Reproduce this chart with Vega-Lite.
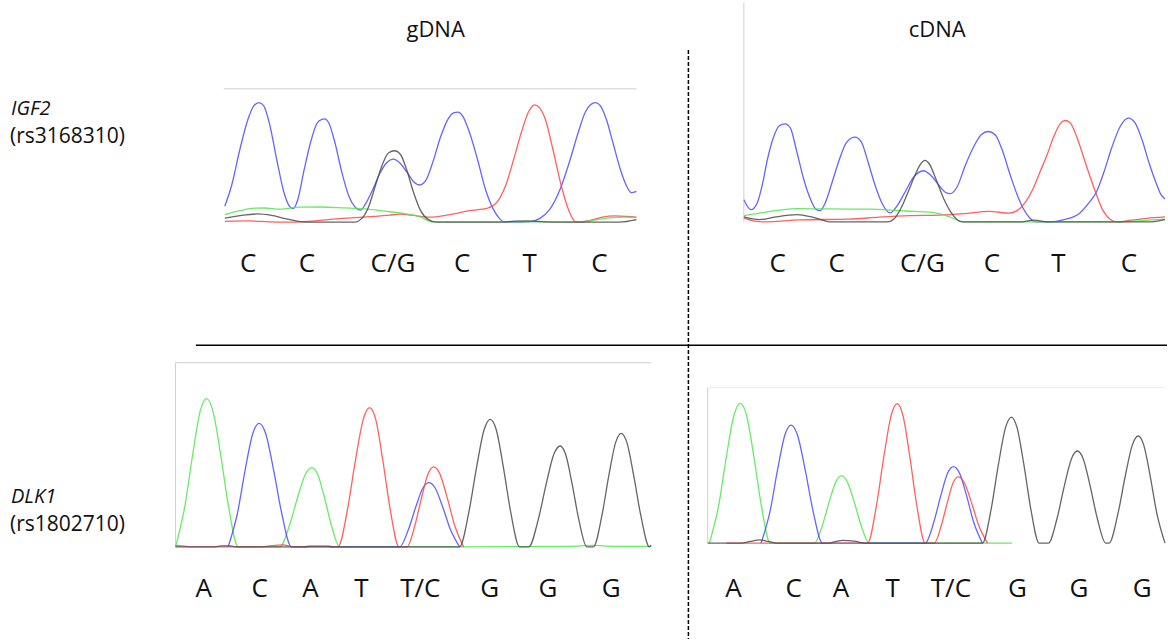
{
  "$schema": "https://vega.github.io/schema/vega-lite/v6.json",
  "width": 1168,
  "height": 640,
  "padding": 0,
  "autosize": {"type": "fit", "contains": "padding"},
  "background": "white",
  "config": {"view": {"stroke": null}},
  "datasets": {
    "frames": [
      {"k": "border", "x": 224, "x2": 637, "y": 89, "y2": 89},
      {"k": "border", "x": 744.5, "x2": 744.5, "y": 3, "y2": 222.3},
      {"k": "border", "x": 175.7, "x2": 651.7, "y": 363.3, "y2": 363.3},
      {"k": "border", "x": 175.7, "x2": 175.7, "y": 363.3, "y2": 547.7},
      {"k": "faint", "x": 708.3, "x2": 1166, "y": 388.3, "y2": 388.3},
      {"k": "border", "x": 708.3, "x2": 708.3, "y": 388.3, "y2": 544},
      {"k": "solid", "x": 196, "x2": 1168, "y": 345.7, "y2": 345.7},
      {"k": "dash", "x": 689, "x2": 689, "y": 50, "y2": 640}
    ],
    "traces": [
      {"p":"TL","b":"C","x":225,"y":206.5},{"p":"TL","b":"C","x":232,"y":185},{"p":"TL","b":"C","x":240,"y":150},{"p":"TL","b":"C","x":248,"y":120},{"p":"TL","b":"C","x":254,"y":106},{"p":"TL","b":"C","x":259.3,"y":102.7},{"p":"TL","b":"C","x":264,"y":106},{"p":"TL","b":"C","x":270,"y":125},{"p":"TL","b":"C","x":277,"y":160},{"p":"TL","b":"C","x":284,"y":192},{"p":"TL","b":"C","x":290,"y":207},{"p":"TL","b":"C","x":293.5,"y":209},{"p":"TL","b":"C","x":298,"y":200},{"p":"TL","b":"C","x":304,"y":172},{"p":"TL","b":"C","x":311,"y":142},{"p":"TL","b":"C","x":317,"y":124},{"p":"TL","b":"C","x":322,"y":119.5},{"p":"TL","b":"C","x":325,"y":119},{"p":"TL","b":"C","x":329,"y":123},{"p":"TL","b":"C","x":335,"y":142},{"p":"TL","b":"C","x":342,"y":172},{"p":"TL","b":"C","x":349,"y":196},{"p":"TL","b":"C","x":355,"y":207},{"p":"TL","b":"C","x":360.7,"y":210.5},{"p":"TL","b":"C","x":366,"y":204},{"p":"TL","b":"C","x":373,"y":190},{"p":"TL","b":"C","x":380,"y":174},{"p":"TL","b":"C","x":387,"y":163},{"p":"TL","b":"C","x":394,"y":159.3},{"p":"TL","b":"C","x":400,"y":163},{"p":"TL","b":"C","x":407,"y":172},{"p":"TL","b":"C","x":414,"y":182},{"p":"TL","b":"C","x":420,"y":185.3},{"p":"TL","b":"C","x":426,"y":181},{"p":"TL","b":"C","x":433,"y":163},{"p":"TL","b":"C","x":441,"y":137},{"p":"TL","b":"C","x":448,"y":120},{"p":"TL","b":"C","x":454,"y":113},{"p":"TL","b":"C","x":458.3,"y":112.3},{"p":"TL","b":"C","x":463,"y":116},{"p":"TL","b":"C","x":470,"y":133},{"p":"TL","b":"C","x":478,"y":160},{"p":"TL","b":"C","x":486,"y":190},{"p":"TL","b":"C","x":494,"y":210},{"p":"TL","b":"C","x":500,"y":219},{"p":"TL","b":"C","x":505,"y":222.5},{"p":"TL","b":"C","x":515,"y":222.5},{"p":"TL","b":"C","x":530,"y":222},{"p":"TL","b":"C","x":540,"y":219},{"p":"TL","b":"C","x":550,"y":210},{"p":"TL","b":"C","x":561.7,"y":186.7},{"p":"TL","b":"C","x":570,"y":162},{"p":"TL","b":"C","x":578,"y":135},{"p":"TL","b":"C","x":586,"y":112},{"p":"TL","b":"C","x":591,"y":105},{"p":"TL","b":"C","x":596,"y":102.7},{"p":"TL","b":"C","x":601,"y":106},{"p":"TL","b":"C","x":607,"y":120},{"p":"TL","b":"C","x":614,"y":145},{"p":"TL","b":"C","x":621,"y":170},{"p":"TL","b":"C","x":627,"y":186},{"p":"TL","b":"C","x":632,"y":193},{"p":"TL","b":"C","x":637,"y":191.7},
      {"p":"TL","b":"T","x":225,"y":221.7},{"p":"TL","b":"T","x":250,"y":221.3},{"p":"TL","b":"T","x":270,"y":222.3},{"p":"TL","b":"T","x":290,"y":222.5},{"p":"TL","b":"T","x":340,"y":219},{"p":"TL","b":"T","x":390,"y":215.5},{"p":"TL","b":"T","x":400,"y":214.5},{"p":"TL","b":"T","x":412,"y":215.5},{"p":"TL","b":"T","x":430,"y":217.5},{"p":"TL","b":"T","x":450,"y":215},{"p":"TL","b":"T","x":470,"y":211},{"p":"TL","b":"T","x":488,"y":208.5},{"p":"TL","b":"T","x":497,"y":203},{"p":"TL","b":"T","x":506,"y":186},{"p":"TL","b":"T","x":514,"y":160},{"p":"TL","b":"T","x":522,"y":132},{"p":"TL","b":"T","x":529,"y":112},{"p":"TL","b":"T","x":535,"y":105},{"p":"TL","b":"T","x":540,"y":108},{"p":"TL","b":"T","x":546,"y":120},{"p":"TL","b":"T","x":553,"y":148},{"p":"TL","b":"T","x":562,"y":187},{"p":"TL","b":"T","x":569,"y":210},{"p":"TL","b":"T","x":576.7,"y":222.5},{"p":"TL","b":"T","x":590,"y":221},{"p":"TL","b":"T","x":603,"y":217.5},{"p":"TL","b":"T","x":615,"y":216.3},{"p":"TL","b":"T","x":627,"y":216.8},{"p":"TL","b":"T","x":637,"y":217.5},
      {"p":"TL","b":"A","x":225,"y":215},{"p":"TL","b":"A","x":240,"y":211},{"p":"TL","b":"A","x":255,"y":208.5},{"p":"TL","b":"A","x":265,"y":208.3},{"p":"TL","b":"A","x":280,"y":209.5},{"p":"TL","b":"A","x":300,"y":207.5},{"p":"TL","b":"A","x":320,"y":207.3},{"p":"TL","b":"A","x":345,"y":208.3},{"p":"TL","b":"A","x":365,"y":209.3},{"p":"TL","b":"A","x":385,"y":211.5},{"p":"TL","b":"A","x":405,"y":214},{"p":"TL","b":"A","x":420,"y":217},{"p":"TL","b":"A","x":433,"y":222.3},{"p":"TL","b":"A","x":580,"y":222.3},{"p":"TL","b":"A","x":595,"y":220.5},{"p":"TL","b":"A","x":610,"y":218.3},{"p":"TL","b":"A","x":625,"y":217.5},{"p":"TL","b":"A","x":637,"y":217.8},
      {"p":"TL","b":"G","x":225,"y":218.5},{"p":"TL","b":"G","x":240,"y":216},{"p":"TL","b":"G","x":258,"y":214.3},{"p":"TL","b":"G","x":272,"y":215.8},{"p":"TL","b":"G","x":288,"y":219.5},{"p":"TL","b":"G","x":305,"y":222.5},{"p":"TL","b":"G","x":355,"y":222.5},{"p":"TL","b":"G","x":362,"y":219},{"p":"TL","b":"G","x":369,"y":207},{"p":"TL","b":"G","x":376,"y":185},{"p":"TL","b":"G","x":383,"y":164},{"p":"TL","b":"G","x":389,"y":153},{"p":"TL","b":"G","x":395,"y":151},{"p":"TL","b":"G","x":401,"y":155},{"p":"TL","b":"G","x":407,"y":170},{"p":"TL","b":"G","x":414,"y":193},{"p":"TL","b":"G","x":421,"y":211},{"p":"TL","b":"G","x":428,"y":219.5},{"p":"TL","b":"G","x":437,"y":222.5},{"p":"TL","b":"G","x":500,"y":222.5},{"p":"TL","b":"G","x":515,"y":221.5},{"p":"TL","b":"G","x":527,"y":221.2},{"p":"TL","b":"G","x":545,"y":222.2},{"p":"TL","b":"G","x":560,"y":222.5},{"p":"TL","b":"G","x":620,"y":222.5},{"p":"TL","b":"G","x":637,"y":220},

      {"p":"TR","b":"C","x":744.5,"y":200},{"p":"TR","b":"C","x":751.7,"y":210},{"p":"TR","b":"C","x":758,"y":203},{"p":"TR","b":"C","x":763,"y":185},{"p":"TR","b":"C","x":768,"y":160},{"p":"TR","b":"C","x":774,"y":138},{"p":"TR","b":"C","x":780,"y":126},{"p":"TR","b":"C","x":785.7,"y":124},{"p":"TR","b":"C","x":791,"y":128},{"p":"TR","b":"C","x":797,"y":150},{"p":"TR","b":"C","x":804,"y":178},{"p":"TR","b":"C","x":811,"y":199},{"p":"TR","b":"C","x":817,"y":210},{"p":"TR","b":"C","x":821,"y":211},{"p":"TR","b":"C","x":826,"y":203},{"p":"TR","b":"C","x":833,"y":182},{"p":"TR","b":"C","x":840,"y":160},{"p":"TR","b":"C","x":847,"y":143},{"p":"TR","b":"C","x":855.7,"y":137.3},{"p":"TR","b":"C","x":862,"y":142},{"p":"TR","b":"C","x":869,"y":163},{"p":"TR","b":"C","x":876,"y":186},{"p":"TR","b":"C","x":883,"y":204},{"p":"TR","b":"C","x":891,"y":213.3},{"p":"TR","b":"C","x":898,"y":206},{"p":"TR","b":"C","x":906,"y":192},{"p":"TR","b":"C","x":914,"y":178},{"p":"TR","b":"C","x":924.3,"y":171},{"p":"TR","b":"C","x":932,"y":176},{"p":"TR","b":"C","x":940,"y":186},{"p":"TR","b":"C","x":946,"y":192.5},{"p":"TR","b":"C","x":951,"y":194},{"p":"TR","b":"C","x":958,"y":187},{"p":"TR","b":"C","x":966,"y":166},{"p":"TR","b":"C","x":975,"y":146},{"p":"TR","b":"C","x":982,"y":135},{"p":"TR","b":"C","x":989,"y":131.7},{"p":"TR","b":"C","x":996,"y":135},{"p":"TR","b":"C","x":1003,"y":150},{"p":"TR","b":"C","x":1011,"y":175},{"p":"TR","b":"C","x":1020,"y":200},{"p":"TR","b":"C","x":1028,"y":215},{"p":"TR","b":"C","x":1036.7,"y":222.3},{"p":"TR","b":"C","x":1050,"y":222.3},{"p":"TR","b":"C","x":1065,"y":220},{"p":"TR","b":"C","x":1080,"y":214},{"p":"TR","b":"C","x":1090,"y":203},{"p":"TR","b":"C","x":1097,"y":193},{"p":"TR","b":"C","x":1105,"y":172},{"p":"TR","b":"C","x":1113,"y":147},{"p":"TR","b":"C","x":1121,"y":127},{"p":"TR","b":"C","x":1129.3,"y":118.3},{"p":"TR","b":"C","x":1136,"y":123},{"p":"TR","b":"C","x":1143,"y":140},{"p":"TR","b":"C","x":1150,"y":163},{"p":"TR","b":"C","x":1157,"y":183},{"p":"TR","b":"C","x":1162,"y":195},{"p":"TR","b":"C","x":1166,"y":199.3},
      {"p":"TR","b":"T","x":744.5,"y":218.3},{"p":"TR","b":"T","x":755,"y":221.5},{"p":"TR","b":"T","x":765,"y":222.3},{"p":"TR","b":"T","x":800,"y":220.2},{"p":"TR","b":"T","x":850,"y":219.5},{"p":"TR","b":"T","x":880,"y":217.5},{"p":"TR","b":"T","x":910,"y":216},{"p":"TR","b":"T","x":940,"y":215.5},{"p":"TR","b":"T","x":965,"y":214},{"p":"TR","b":"T","x":990,"y":211.7},{"p":"TR","b":"T","x":1010,"y":213.5},{"p":"TR","b":"T","x":1018,"y":211},{"p":"TR","b":"T","x":1026,"y":203},{"p":"TR","b":"T","x":1034,"y":189},{"p":"TR","b":"T","x":1041,"y":172},{"p":"TR","b":"T","x":1048,"y":155},{"p":"TR","b":"T","x":1055,"y":136},{"p":"TR","b":"T","x":1061,"y":124},{"p":"TR","b":"T","x":1066,"y":120.7},{"p":"TR","b":"T","x":1071,"y":123},{"p":"TR","b":"T","x":1078,"y":138},{"p":"TR","b":"T","x":1086,"y":162},{"p":"TR","b":"T","x":1096.7,"y":193},{"p":"TR","b":"T","x":1104,"y":211},{"p":"TR","b":"T","x":1111,"y":219.5},{"p":"TR","b":"T","x":1118.3,"y":222.3},{"p":"TR","b":"T","x":1130,"y":220.8},{"p":"TR","b":"T","x":1148,"y":218.7},{"p":"TR","b":"T","x":1166,"y":217.3},
      {"p":"TR","b":"A","x":744.5,"y":216},{"p":"TR","b":"A","x":760,"y":213.5},{"p":"TR","b":"A","x":780,"y":210.5},{"p":"TR","b":"A","x":798,"y":209},{"p":"TR","b":"A","x":830,"y":209.3},{"p":"TR","b":"A","x":870,"y":209.5},{"p":"TR","b":"A","x":900,"y":211},{"p":"TR","b":"A","x":920,"y":212},{"p":"TR","b":"A","x":935,"y":213},{"p":"TR","b":"A","x":950,"y":217},{"p":"TR","b":"A","x":965,"y":222.3},{"p":"TR","b":"A","x":1118,"y":222.3},{"p":"TR","b":"A","x":1135,"y":221.5},{"p":"TR","b":"A","x":1150,"y":220.5},{"p":"TR","b":"A","x":1166,"y":219.5},
      {"p":"TR","b":"G","x":744.5,"y":217.3},{"p":"TR","b":"G","x":760,"y":220},{"p":"TR","b":"G","x":775,"y":217.5},{"p":"TR","b":"G","x":798,"y":215},{"p":"TR","b":"G","x":815,"y":218},{"p":"TR","b":"G","x":832,"y":222.3},{"p":"TR","b":"G","x":888,"y":222.3},{"p":"TR","b":"G","x":895,"y":219},{"p":"TR","b":"G","x":902,"y":208},{"p":"TR","b":"G","x":909,"y":192},{"p":"TR","b":"G","x":916,"y":175},{"p":"TR","b":"G","x":921,"y":165},{"p":"TR","b":"G","x":925.7,"y":160.7},{"p":"TR","b":"G","x":930,"y":164},{"p":"TR","b":"G","x":937,"y":180},{"p":"TR","b":"G","x":945,"y":200},{"p":"TR","b":"G","x":952,"y":213},{"p":"TR","b":"G","x":958,"y":220},{"p":"TR","b":"G","x":963.3,"y":222.3},{"p":"TR","b":"G","x":1020,"y":222.3},{"p":"TR","b":"G","x":1035,"y":220.5},{"p":"TR","b":"G","x":1050,"y":222.3},{"p":"TR","b":"G","x":1150,"y":222.3},{"p":"TR","b":"G","x":1166,"y":220},

      {"p":"BL","b":"A","x":175.7,"y":547.7},{"p":"BL","b":"A","x":184.9,"y":507.6},{"p":"BL","b":"A","x":192.8,"y":455.7},{"p":"BL","b":"A","x":200.5,"y":411.2},{"p":"BL","b":"A","x":206.7,"y":399.3},{"p":"BL","b":"A","x":213,"y":411.2},{"p":"BL","b":"A","x":220.9,"y":455.7},{"p":"BL","b":"A","x":228.8,"y":507.6},{"p":"BL","b":"A","x":238.3,"y":547.7},{"p":"BL","b":"A","x":280,"y":547.7},{"p":"BL","b":"A","x":289.7,"y":526.3},{"p":"BL","b":"A","x":297.8,"y":498.5},{"p":"BL","b":"A","x":305.8,"y":474.7},{"p":"BL","b":"A","x":312.3,"y":468.3},{"p":"BL","b":"A","x":317.8,"y":474.7},{"p":"BL","b":"A","x":324.8,"y":498.5},{"p":"BL","b":"A","x":331.7,"y":526.3},{"p":"BL","b":"A","x":340,"y":547.7},{"p":"BL","b":"A","x":460,"y":547.7},{"p":"BL","b":"A","x":570,"y":547.2},{"p":"BL","b":"A","x":593,"y":546.3},{"p":"BL","b":"A","x":615,"y":547.2},{"p":"BL","b":"A","x":651.7,"y":547.3},
      {"p":"BL","b":"C","x":228.3,"y":547.7},{"p":"BL","b":"C","x":237.6,"y":514.3},{"p":"BL","b":"C","x":245.3,"y":471},{"p":"BL","b":"C","x":253.1,"y":433.9},{"p":"BL","b":"C","x":259.3,"y":424},{"p":"BL","b":"C","x":265.8,"y":433.9},{"p":"BL","b":"C","x":273.9,"y":471},{"p":"BL","b":"C","x":282,"y":514.3},{"p":"BL","b":"C","x":291.7,"y":547.7},{"p":"BL","b":"C","x":400,"y":547.7},{"p":"BL","b":"C","x":408.8,"y":530.3},{"p":"BL","b":"C","x":416.1,"y":507.8},{"p":"BL","b":"C","x":423.4,"y":488.5},{"p":"BL","b":"C","x":429.3,"y":483.3},{"p":"BL","b":"C","x":435.4,"y":488.5},{"p":"BL","b":"C","x":443.1,"y":507.8},{"p":"BL","b":"C","x":450.8,"y":530.3},{"p":"BL","b":"C","x":460,"y":547.7},
      {"p":"BL","b":"T","x":175.7,"y":546.5},{"p":"BL","b":"T","x":183,"y":546.8},{"p":"BL","b":"T","x":190,"y":547.7},{"p":"BL","b":"T","x":262,"y":547.7},{"p":"BL","b":"T","x":272,"y":546.5},{"p":"BL","b":"T","x":283,"y":545.8},{"p":"BL","b":"T","x":294,"y":547.7},{"p":"BL","b":"T","x":338.3,"y":547.7},{"p":"BL","b":"T","x":347.8,"y":510.1},{"p":"BL","b":"T","x":355.7,"y":461.3},{"p":"BL","b":"T","x":363.7,"y":419.5},{"p":"BL","b":"T","x":370,"y":408.3},{"p":"BL","b":"T","x":375.9,"y":419.5},{"p":"BL","b":"T","x":383.2,"y":461.3},{"p":"BL","b":"T","x":390.5,"y":510.1},{"p":"BL","b":"T","x":399.3,"y":547.7},{"p":"BL","b":"T","x":407.3,"y":547.7},{"p":"BL","b":"T","x":415.3,"y":526.1},{"p":"BL","b":"T","x":422,"y":498.1},{"p":"BL","b":"T","x":428.7,"y":474.1},{"p":"BL","b":"T","x":434,"y":467.7},{"p":"BL","b":"T","x":440,"y":474.1},{"p":"BL","b":"T","x":447.5,"y":498.1},{"p":"BL","b":"T","x":455,"y":526.1},{"p":"BL","b":"T","x":464,"y":547.7},
      {"p":"BL","b":"G","x":175.7,"y":547.7},{"p":"BL","b":"G","x":215,"y":547.7},{"p":"BL","b":"G","x":222,"y":546.8},{"p":"BL","b":"G","x":230,"y":546.8},{"p":"BL","b":"G","x":236,"y":547.7},{"p":"BL","b":"G","x":305,"y":547.7},{"p":"BL","b":"G","x":310,"y":547},{"p":"BL","b":"G","x":328,"y":547},{"p":"BL","b":"G","x":333,"y":547.7},{"p":"BL","b":"G","x":460,"y":547.7},{"p":"BL","b":"G","x":469.2,"y":513.2},{"p":"BL","b":"G","x":476.9,"y":468.5},{"p":"BL","b":"G","x":484.6,"y":430.2},{"p":"BL","b":"G","x":490.7,"y":420},{"p":"BL","b":"G","x":496.6,"y":430.2},{"p":"BL","b":"G","x":503.9,"y":468.5},{"p":"BL","b":"G","x":511.2,"y":513.2},{"p":"BL","b":"G","x":520,"y":547.7},{"p":"BL","b":"G","x":529.3,"y":547.7},{"p":"BL","b":"G","x":538.7,"y":520.4},{"p":"BL","b":"G","x":546.6,"y":485.1},{"p":"BL","b":"G","x":554.4,"y":454.8},{"p":"BL","b":"G","x":560.7,"y":446.7},{"p":"BL","b":"G","x":566,"y":454.8},{"p":"BL","b":"G","x":572.7,"y":485.1},{"p":"BL","b":"G","x":579.3,"y":520.4},{"p":"BL","b":"G","x":587.3,"y":547.7},{"p":"BL","b":"G","x":594,"y":547.7},{"p":"BL","b":"G","x":602.3,"y":517},{"p":"BL","b":"G","x":609.2,"y":477.2},{"p":"BL","b":"G","x":616.2,"y":443.1},{"p":"BL","b":"G","x":621.7,"y":434},{"p":"BL","b":"G","x":627.4,"y":443.1},{"p":"BL","b":"G","x":634.4,"y":477.2},{"p":"BL","b":"G","x":641.5,"y":517},{"p":"BL","b":"G","x":650,"y":547.7},{"p":"BL","b":"G","x":651.7,"y":546},

      {"p":"BR","b":"A","x":710,"y":544},{"p":"BR","b":"A","x":719.3,"y":506.2},{"p":"BR","b":"A","x":727,"y":457.2},{"p":"BR","b":"A","x":734.8,"y":415.2},{"p":"BR","b":"A","x":741,"y":404},{"p":"BR","b":"A","x":747,"y":415.2},{"p":"BR","b":"A","x":754.5,"y":457.2},{"p":"BR","b":"A","x":762,"y":506.2},{"p":"BR","b":"A","x":771,"y":544},{"p":"BR","b":"A","x":815,"y":544},{"p":"BR","b":"A","x":823.2,"y":525.8},{"p":"BR","b":"A","x":830,"y":502.3},{"p":"BR","b":"A","x":836.8,"y":482.1},{"p":"BR","b":"A","x":842.3,"y":476.7},{"p":"BR","b":"A","x":847.8,"y":482.1},{"p":"BR","b":"A","x":854.8,"y":502.3},{"p":"BR","b":"A","x":861.7,"y":525.8},{"p":"BR","b":"A","x":870,"y":544},{"p":"BR","b":"A","x":1013,"y":544},
      {"p":"BR","b":"C","x":761.7,"y":544},{"p":"BR","b":"C","x":770.7,"y":512.1},{"p":"BR","b":"C","x":778.2,"y":470.7},{"p":"BR","b":"C","x":785.7,"y":435.2},{"p":"BR","b":"C","x":791.7,"y":425.7},{"p":"BR","b":"C","x":798,"y":435.2},{"p":"BR","b":"C","x":805.9,"y":470.7},{"p":"BR","b":"C","x":813.8,"y":512.1},{"p":"BR","b":"C","x":823.3,"y":544},{"p":"BR","b":"C","x":926,"y":544},{"p":"BR","b":"C","x":934.5,"y":523.3},{"p":"BR","b":"C","x":941.6,"y":496.4},{"p":"BR","b":"C","x":948.6,"y":473.4},{"p":"BR","b":"C","x":954.3,"y":467.3},{"p":"BR","b":"C","x":960.1,"y":473.4},{"p":"BR","b":"C","x":967.4,"y":496.4},{"p":"BR","b":"C","x":974.6,"y":523.3},{"p":"BR","b":"C","x":983.3,"y":544},
      {"p":"BR","b":"T","x":727,"y":544},{"p":"BR","b":"T","x":868.3,"y":544},{"p":"BR","b":"T","x":877.2,"y":506.3},{"p":"BR","b":"T","x":884.6,"y":457.4},{"p":"BR","b":"T","x":892.1,"y":415.5},{"p":"BR","b":"T","x":898,"y":404.3},{"p":"BR","b":"T","x":903.6,"y":415.5},{"p":"BR","b":"T","x":910.6,"y":457.4},{"p":"BR","b":"T","x":917.6,"y":506.3},{"p":"BR","b":"T","x":926,"y":544},{"p":"BR","b":"T","x":935,"y":544},{"p":"BR","b":"T","x":942.2,"y":526.1},{"p":"BR","b":"T","x":948.2,"y":502.9},{"p":"BR","b":"T","x":954.2,"y":483},{"p":"BR","b":"T","x":959,"y":477.7},{"p":"BR","b":"T","x":964.9,"y":483},{"p":"BR","b":"T","x":972.2,"y":502.9},{"p":"BR","b":"T","x":979.5,"y":526.1},{"p":"BR","b":"T","x":988.3,"y":544},
      {"p":"BR","b":"G","x":708.3,"y":544},{"p":"BR","b":"G","x":742,"y":544},{"p":"BR","b":"G","x":751,"y":542.3},{"p":"BR","b":"G","x":760,"y":540.7},{"p":"BR","b":"G","x":769,"y":542.3},{"p":"BR","b":"G","x":778,"y":544},{"p":"BR","b":"G","x":828,"y":544},{"p":"BR","b":"G","x":836,"y":542.5},{"p":"BR","b":"G","x":843,"y":541.3},{"p":"BR","b":"G","x":855,"y":542},{"p":"BR","b":"G","x":866,"y":544},{"p":"BR","b":"G","x":983.3,"y":544},{"p":"BR","b":"G","x":992,"y":509.9},{"p":"BR","b":"G","x":999.2,"y":465.7},{"p":"BR","b":"G","x":1006.5,"y":427.8},{"p":"BR","b":"G","x":1012.3,"y":417.7},{"p":"BR","b":"G","x":1017.8,"y":427.8},{"p":"BR","b":"G","x":1024.8,"y":465.7},{"p":"BR","b":"G","x":1031.7,"y":509.9},{"p":"BR","b":"G","x":1040,"y":544},{"p":"BR","b":"G","x":1049.3,"y":544},{"p":"BR","b":"G","x":1058,"y":519.1},{"p":"BR","b":"G","x":1065.2,"y":486.8},{"p":"BR","b":"G","x":1072.5,"y":459.1},{"p":"BR","b":"G","x":1078.3,"y":451.7},{"p":"BR","b":"G","x":1084,"y":459.1},{"p":"BR","b":"G","x":1091.1,"y":486.8},{"p":"BR","b":"G","x":1098.2,"y":519.1},{"p":"BR","b":"G","x":1106.7,"y":544},{"p":"BR","b":"G","x":1110,"y":544},{"p":"BR","b":"G","x":1118.8,"y":515},{"p":"BR","b":"G","x":1126.1,"y":477.5},{"p":"BR","b":"G","x":1133.4,"y":445.3},{"p":"BR","b":"G","x":1139.3,"y":436.7},{"p":"BR","b":"G","x":1144.6,"y":445.3},{"p":"BR","b":"G","x":1151.3,"y":477.5},{"p":"BR","b":"G","x":1158,"y":515},{"p":"BR","b":"G","x":1166,"y":544}
    ],
    "texts": [
      {"k": "head", "t": "gDNA", "x": 436, "y": 37},
      {"k": "head", "t": "cDNA", "x": 938, "y": 37},
      {"k": "gene", "t": "IGF2", "x": 11, "y": 115},
      {"k": "snp", "t": "(rs3168310)", "x": 10, "y": 143},
      {"k": "gene", "t": "DLK1", "x": 11, "y": 504},
      {"k": "snp", "t": "(rs1802710)", "x": 10, "y": 532},
      {"k": "base", "t": "C", "x": 248.3, "y": 272},
      {"k": "base", "t": "C", "x": 307.3, "y": 272},
      {"k": "base", "t": "C/G", "x": 393.3, "y": 272},
      {"k": "base", "t": "C", "x": 462.7, "y": 272},
      {"k": "base", "t": "T", "x": 530, "y": 272},
      {"k": "base", "t": "C", "x": 600, "y": 272},
      {"k": "base", "t": "C", "x": 778.3, "y": 272},
      {"k": "base", "t": "C", "x": 837.3, "y": 272},
      {"k": "base", "t": "C/G", "x": 923.3, "y": 272},
      {"k": "base", "t": "C", "x": 992.7, "y": 272},
      {"k": "base", "t": "T", "x": 1059.3, "y": 272},
      {"k": "base", "t": "C", "x": 1130, "y": 272},
      {"k": "base", "t": "A", "x": 204, "y": 598},
      {"k": "base", "t": "C", "x": 260, "y": 598},
      {"k": "base", "t": "A", "x": 310.7, "y": 598},
      {"k": "base", "t": "T", "x": 361.7, "y": 598},
      {"k": "base", "t": "T/C", "x": 420.7, "y": 598},
      {"k": "base", "t": "G", "x": 490, "y": 598},
      {"k": "base", "t": "G", "x": 548.3, "y": 598},
      {"k": "base", "t": "G", "x": 611.7, "y": 598},
      {"k": "base", "t": "A", "x": 734, "y": 598},
      {"k": "base", "t": "C", "x": 794.3, "y": 598},
      {"k": "base", "t": "A", "x": 841.7, "y": 598},
      {"k": "base", "t": "T", "x": 893.3, "y": 598},
      {"k": "base", "t": "T/C", "x": 951.7, "y": 598},
      {"k": "base", "t": "G", "x": 1018.3, "y": 598},
      {"k": "base", "t": "G", "x": 1080, "y": 598},
      {"k": "base", "t": "G", "x": 1143.3, "y": 598}
    ]
  },
  "encoding": {
    "x": {"field": "x", "type": "quantitative", "scale": {"domain": [0, 1168], "nice": false, "zero": false}, "axis": null},
    "y": {"field": "y", "type": "quantitative", "scale": {"domain": [0, 640], "nice": false, "zero": false, "reverse": true}, "axis": null}
  },
  "layer": [
    {
      "data": {"name": "frames"},
      "transform": [{"filter": "datum.k === 'border'"}],
      "mark": {"type": "rule", "stroke": "#cfcfcf", "strokeWidth": 1},
      "encoding": {"x2": {"field": "x2"}, "y2": {"field": "y2"}}
    },
    {
      "data": {"name": "frames"},
      "transform": [{"filter": "datum.k === 'faint'"}],
      "mark": {"type": "rule", "stroke": "#ececec", "strokeWidth": 1},
      "encoding": {"x2": {"field": "x2"}, "y2": {"field": "y2"}}
    },
    {
      "data": {"name": "frames"},
      "transform": [{"filter": "datum.k === 'solid'"}],
      "mark": {"type": "rule", "stroke": "#000000", "strokeWidth": 1.5},
      "encoding": {"x2": {"field": "x2"}, "y2": {"field": "y2"}}
    },
    {
      "data": {"name": "frames"},
      "transform": [{"filter": "datum.k === 'dash'"}],
      "mark": {"type": "rule", "stroke": "#000000", "strokeWidth": 1.5, "strokeDash": [4, 2]},
      "encoding": {"x2": {"field": "x2"}, "y2": {"field": "y2"}}
    },
    {
      "data": {"name": "traces"},
      "mark": {"type": "line", "interpolate": "monotone", "strokeWidth": 1.3, "strokeOpacity": 0.85},
      "encoding": {
        "detail": {"field": "p"},
        "color": {"field": "b", "type": "nominal", "legend": null,
          "scale": {"domain": ["A", "C", "G", "T"], "range": ["#4fe64f", "#4a4aff", "#4a4a4a", "#ff4545"]}}
      }
    },
    {
      "data": {"name": "texts"},
      "transform": [{"filter": "datum.k === 'head'"}],
      "mark": {"type": "text", "font": "Open Sans", "fontSize": 22, "align": "center", "baseline": "alphabetic", "color": "#111111"},
      "encoding": {"text": {"field": "t"}}
    },
    {
      "data": {"name": "texts"},
      "transform": [{"filter": "datum.k === 'gene'"}],
      "mark": {"type": "text", "font": "Open Sans", "fontSize": 20, "fontStyle": "italic", "align": "left", "baseline": "alphabetic", "color": "#111111"},
      "encoding": {"text": {"field": "t"}}
    },
    {
      "data": {"name": "texts"},
      "transform": [{"filter": "datum.k === 'snp'"}],
      "mark": {"type": "text", "font": "Open Sans", "fontSize": 21, "align": "left", "baseline": "alphabetic", "color": "#111111"},
      "encoding": {"text": {"field": "t"}}
    },
    {
      "data": {"name": "texts"},
      "transform": [{"filter": "datum.k === 'base'"}],
      "mark": {"type": "text", "font": "Open Sans", "fontSize": 26, "align": "center", "baseline": "alphabetic", "color": "#111111"},
      "encoding": {"text": {"field": "t"}}
    }
  ]
}
